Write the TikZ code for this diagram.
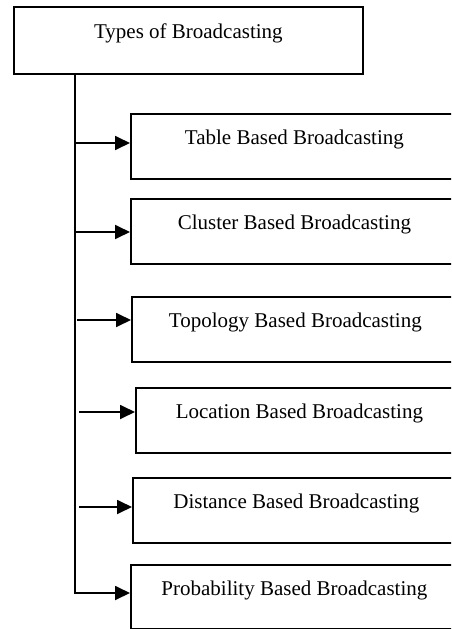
\documentclass[tikz,border=0pt]{standalone}
\usepackage{fontspec}
\setmainfont{Liberation Serif}
\usetikzlibrary{arrows.meta}

\begin{document}
\begin{tikzpicture}[x=1pt,y=-1pt]
\def\cLine{black}
\def\cText{black}
\def\w{1.8pt}
\def\xT{75}
\tikzset{
  box/.style={draw=\cLine,line width=\w,inner sep=0pt,anchor=north west,
    minimum width=327pt,text height=31pt,text depth=34pt,text=\cText,
    font=\fontsize{21}{25}\selectfont},
  link/.style={\cLine,line width=\w,-{Triangle[length=15pt,width=14pt]}}
}
\useasboundingbox (0,0) rectangle (451,629);
\clip (0,0) rectangle (451,629);
% main box
\node[box,minimum width=349pt,text height=32pt,text depth=35pt] (types) at (13,6) {Types of Broadcasting};
% kinds
\node[box] (table) at (130,113) {Table Based Broadcasting};
\node[box] (cluster) at (130,198) {Cluster Based Broadcasting};
\node[box] (topology) at (131,296) {Topology Based Broadcasting};
\node[box] (location) at (135,387) {Location Based Broadcasting};
\node[box] (distance) at (132,477) {Distance Based Broadcasting};
\node[box,text depth=33pt] (probability) at (130,564) {Probability Based Broadcasting};
% trunk
\coordinate (trunk) at (\xT,73);
\coordinate (bend) at (\xT,593);
\coordinate (a1) at (\xT,143);
\coordinate (a2) at (\xT,232);
\coordinate (a3) at (\xT+2,320);
\coordinate (a4) at (\xT+4,412);
\coordinate (a5) at (\xT+4,507);
\draw[\cLine,line width=\w] (trunk) -- (bend);
\draw[link] (a1) -- (a1 -| table.west);
\draw[link] (a2) -- (a2 -| cluster.west);
\draw[link] (a3) -- (a3 -| topology.west);
\draw[link] (a4) -- (a4 -| location.west);
\draw[link] (a5) -- (a5 -| distance.west);
\draw[link] ([xshift=-0.9pt]bend) -- (bend -| probability.west);
\end{tikzpicture}
\end{document}
